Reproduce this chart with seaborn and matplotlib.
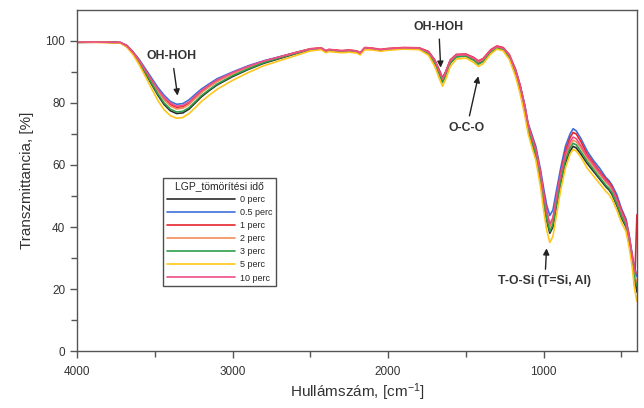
import pandas as pd
import matplotlib.pyplot as plt
import seaborn as sns

# FTIR spectra, LGP compaction time series
WAVENUMBER = [
    4000, 3900, 3800, 3720, 3680, 3640, 3600, 3560, 3520, 3480,
    3440, 3400, 3360, 3320, 3280, 3240, 3200, 3150, 3100, 3000,
    2900, 2800, 2700, 2600, 2500, 2430, 2400, 2380, 2300, 2250,
    2200, 2180, 2150, 2100, 2050, 2000, 1900, 1800, 1740, 1700,
    1670, 1650, 1630, 1600, 1560, 1500, 1450, 1420, 1390, 1340,
    1300, 1260, 1220, 1180, 1150, 1120, 1100, 1080, 1050, 1020,
    1000, 980, 960, 940, 920, 890, 860, 830, 810, 790,
    760, 720, 680, 640, 600, 580, 560, 530, 500, 470,
    450, 430, 415, 400,
]

T_0 = [
    99.6, 99.7, 99.6, 99.4, 98.2, 96.0, 93.0, 89.5, 86.0, 82.5,
    79.5, 77.5, 76.6, 76.8, 78.0, 80.0, 82.0, 84.0, 85.8, 88.5,
    90.8, 92.8, 94.3, 95.8, 97.2, 97.5, 96.6, 97.0, 96.6, 96.8,
    96.5, 95.9, 97.6, 97.4, 97.0, 97.3, 97.6, 97.5, 96.0, 93.0,
    89.5, 87.0, 89.0, 93.0, 95.0, 95.2, 94.0, 92.8, 93.5, 96.5,
    97.8, 97.3, 94.8, 89.5, 84.0, 77.0, 71.5, 68.0, 63.0, 55.0,
    48.0, 42.0, 38.0, 40.0, 46.0, 54.0, 60.5, 64.5, 66.0, 65.5,
    63.5, 60.5, 58.0, 55.5, 53.0, 52.0, 50.5, 47.0, 43.0, 40.0,
    35.0, 29.0, 24.0, 19.0,
]
T_05 = [
    99.5, 99.6, 99.7, 99.5, 98.6, 96.5, 94.0, 91.0, 88.0, 85.0,
    82.5, 80.5, 79.6, 79.8, 81.0, 82.8, 84.5, 86.2, 87.8, 90.0,
    92.0, 93.6, 94.9, 96.2, 97.4, 97.6, 96.8, 97.1, 96.8, 96.9,
    96.6, 96.1, 97.7, 97.5, 97.1, 97.4, 97.7, 97.7, 96.5, 93.8,
    90.5, 88.0, 90.0, 93.8, 95.5, 95.6, 94.5, 93.3, 94.0, 96.8,
    98.0, 97.6, 95.3, 90.5, 85.5, 79.0, 73.5, 70.5, 66.0, 58.5,
    52.5, 47.0, 43.7, 45.5, 51.0, 59.0, 66.0, 70.0, 71.7, 71.0,
    68.5, 64.5, 61.5, 59.0, 56.0, 55.0, 53.5, 50.5, 46.0, 42.5,
    37.5, 31.0, 27.0, 24.0,
]
T_1 = [
    99.7, 99.6, 99.7, 99.5, 98.5, 96.4, 93.7, 90.5, 87.3, 84.2,
    81.4, 79.5, 78.6, 78.8, 79.9, 81.8, 83.6, 85.4, 87.0, 89.5,
    91.6, 93.4, 94.8, 96.2, 97.5, 97.8, 96.9, 97.3, 96.9, 97.1,
    96.8, 96.2, 97.9, 97.7, 97.3, 97.6, 97.9, 97.8, 96.6, 93.9,
    90.5, 88.1, 90.0, 93.9, 95.7, 95.8, 94.7, 93.6, 94.3, 97.2,
    98.4, 97.9, 95.6, 90.8, 85.6, 78.9, 73.2, 69.8, 65.2, 57.5,
    51.0, 45.0, 40.5, 42.5, 48.5, 57.5, 64.5, 68.8, 70.5, 70.0,
    67.5, 63.5, 60.7, 58.0, 55.5, 54.5, 53.0, 49.5, 45.5, 42.0,
    37.0, 30.5, 21.0, 44.0,
]
T_2 = [
    99.6, 99.6, 99.5, 99.4, 98.3, 96.2, 93.5, 90.2, 87.0, 83.8,
    81.0, 79.0, 78.1, 78.3, 79.5, 81.4, 83.3, 85.2, 86.9, 89.4,
    91.5, 93.3, 94.7, 96.1, 97.4, 97.6, 96.7, 97.1, 96.7, 96.9,
    96.6, 96.0, 97.7, 97.5, 97.1, 97.4, 97.7, 97.6, 96.2, 93.4,
    90.0, 87.5, 89.5, 93.5, 95.3, 95.4, 94.3, 93.2, 93.9, 96.8,
    98.0, 97.5, 95.2, 90.1, 84.8, 78.0, 72.6, 69.2, 64.5, 56.6,
    49.8, 44.0, 40.0, 42.0, 48.0, 56.0, 62.5, 66.5, 68.0, 67.5,
    65.5, 62.2, 59.5, 57.0, 54.5, 53.5, 52.0, 48.5, 44.5, 41.0,
    36.0, 29.5, 24.5, 22.0,
]
T_3 = [
    99.6, 99.7, 99.6, 99.4, 98.2, 96.1, 93.2, 89.8, 86.3, 82.9,
    80.0, 78.0, 77.1, 77.3, 78.5, 80.4, 82.4, 84.3, 86.1, 88.8,
    91.0, 93.0, 94.5, 95.9, 97.3, 97.5, 96.6, 97.0, 96.6, 96.8,
    96.5, 95.9, 97.6, 97.4, 97.0, 97.3, 97.6, 97.5, 95.9, 92.8,
    89.2, 86.6, 88.7, 92.8, 94.9, 95.1, 93.8, 92.5, 93.3, 96.4,
    97.7, 97.2, 94.7, 89.4, 84.0, 77.2, 71.8, 68.4, 63.6, 55.7,
    48.8, 42.8, 38.6, 40.8, 46.8, 55.0, 61.5, 65.5, 67.0, 66.5,
    64.3, 61.2, 58.6, 56.0, 53.5, 52.5, 51.0, 47.5, 43.5, 40.5,
    35.5, 29.0, 23.0, 21.0,
]
T_5 = [
    99.5, 99.6, 99.5, 99.3, 98.0, 95.6, 92.3, 88.5, 84.6, 80.8,
    77.8, 75.9, 75.1, 75.3, 76.6, 78.5, 80.5, 82.5, 84.4, 87.3,
    89.8, 92.0, 93.6, 95.2, 96.8, 97.2, 96.2, 96.6, 96.2, 96.4,
    96.1, 95.5, 97.2, 97.1, 96.7, 97.0, 97.4, 97.2, 95.4, 91.8,
    87.8, 85.4, 87.6, 91.8, 94.2, 94.5, 93.1, 91.8, 92.6, 95.8,
    97.4, 96.8, 94.0, 88.5, 82.8, 75.8, 70.2, 66.6, 61.5, 53.0,
    45.5, 39.0, 35.0, 37.0, 43.0, 52.0, 59.0, 63.5, 65.0, 64.5,
    62.5, 59.0, 56.5, 54.0, 51.5, 50.5, 49.0, 45.5, 41.5, 38.5,
    33.5, 27.0, 20.0, 16.0,
]
T_10 = [
    99.6, 99.7, 99.6, 99.5, 98.4, 96.3, 93.6, 90.4, 87.4, 84.4,
    81.8, 80.0, 79.0, 79.2, 80.3, 82.2, 84.0, 85.8, 87.4, 89.8,
    91.8, 93.5, 94.8, 96.1, 97.4, 97.7, 96.8, 97.2, 96.8, 97.0,
    96.7, 96.1, 97.8, 97.6, 97.2, 97.5, 97.8, 97.7, 96.4, 93.6,
    90.2, 87.8, 89.8, 93.7, 95.5, 95.6, 94.5, 93.4, 94.1, 97.0,
    98.2, 97.7, 95.4, 90.4, 85.2, 78.5, 73.0, 69.6, 64.9, 57.2,
    50.6, 44.8, 41.0, 43.0, 49.0, 57.2, 63.5, 67.5, 69.0, 68.5,
    66.2, 62.8, 60.2, 57.5, 55.0, 54.0, 52.5, 49.0, 45.0, 41.5,
    36.5, 30.5, 26.0, 25.0,
]

SERIES = ["0 perc", "0.5 perc", "1 perc", "2 perc", "3 perc", "5 perc", "10 perc"]
COLORS = ["#2b2b2b", "#3f6fd8", "#e8262f", "#f28e5c", "#2e9e4a", "#ffc61a", "#ee4d88"]


def main():
    frames = []
    for name, vals in zip(SERIES, [T_0, T_05, T_1, T_2, T_3, T_5, T_10]):
        frames.append(pd.DataFrame({"wn": WAVENUMBER, "T": vals, "idő": name}))
    df = pd.concat(frames, ignore_index=True)

    sns.set_style("ticks")
    plt.rcParams["font.family"] = ["Liberation Sans", "DejaVu Sans"]
    plt.rcParams["mathtext.default"] = "regular"

    fig = plt.figure(figsize=(6.44, 4.08), dpi=100)
    ax = fig.add_axes([0.1196, 0.1397, 0.8694, 0.8358])

    sns.lineplot(data=df, x="wn", y="T", hue="idő", hue_order=SERIES,
                 palette=dict(zip(SERIES, COLORS)), linewidth=1.2,
                 sort=False, estimator=None, ax=ax)

    ax.set_xlim(4000, 400)
    ax.set_ylim(0, 110)
    ax.set_xticks([4000, 3000, 2000, 1000])
    ax.set_xticks([3500, 2500, 1500, 500], minor=True)
    ax.set_yticks([0, 20, 40, 60, 80, 100])
    ax.set_yticks([10, 30, 50, 70, 90], minor=True)
    ax.tick_params(which="major", direction="out", length=5, width=1,
                   color="#555555", labelsize=8.5, labelcolor="#333333")
    ax.tick_params(axis="x", which="major", pad=6)
    ax.tick_params(which="minor", direction="out", length=4, width=1,
                   color="#555555")
    for s in ax.spines.values():
        s.set_color("#555555")
        s.set_linewidth(1)

    ax.set_xlabel("Hullámszám, [cm$^{-1}$]", fontsize=11, color="#333333", labelpad=2)
    ax.set_ylabel("Transzmittancia, [%]", fontsize=11, color="#333333", labelpad=8)

    arrow = dict(arrowstyle="-|>", color="#222222", lw=1, mutation_scale=9)
    txt = dict(fontsize=8.8, fontweight="bold", color="#333333", ha="center", va="center")
    ax.annotate("OH-HOH", xy=(3351, 81.5), xytext=(3389, 95), arrowprops=arrow, **txt)
    ax.annotate("OH-HOH", xy=(1661, 90.5), xytext=(1674, 104.5), arrowprops=arrow, **txt)
    ax.annotate("O-C-O", xy=(1416, 89.5), xytext=(1494, 72), arrowprops=arrow, **txt)
    ax.annotate("T-O-Si (T=Si, Al)", xy=(980, 34), xytext=(992, 22.5),
                arrowprops=arrow, **txt)

    handles, labels = ax.get_legend_handles_labels()
    leg = ax.legend(handles, labels, title="LGP_tömörítési idő", loc="upper left",
                    bbox_to_anchor=(0.146, 0.522), fontsize=6.5, title_fontsize=7.5,
                    frameon=True, fancybox=False, edgecolor="#222222",
                    handlelength=7.5, handletextpad=0.6, labelspacing=0.45,
                    borderpad=0.4)
    leg.get_frame().set_linewidth(1)
    for line in leg.get_lines():
        line.set_linewidth(1.2)

    fig.savefig("out.png", dpi=100)


if __name__ == "__main__":
    main()
